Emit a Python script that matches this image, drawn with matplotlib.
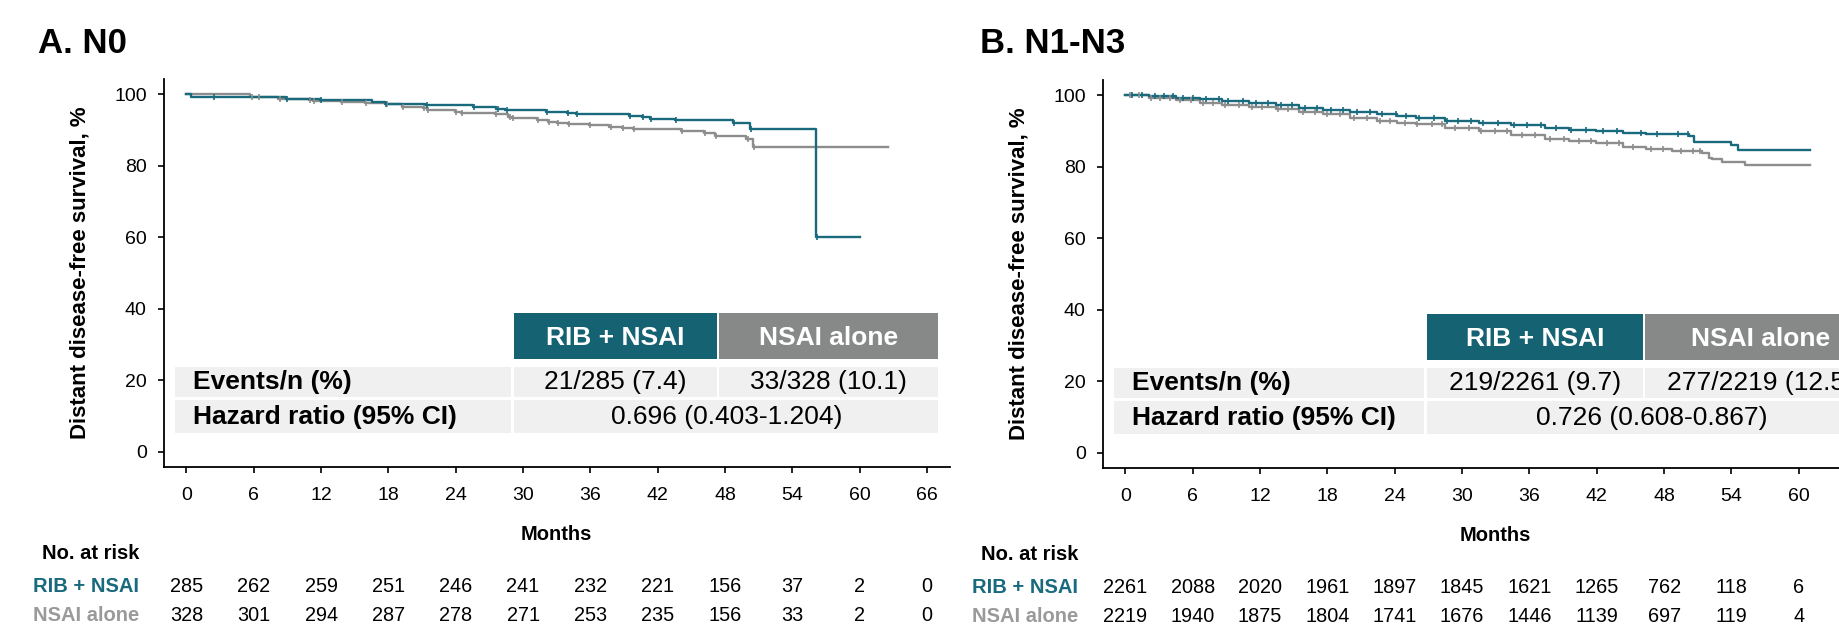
import numpy as np
import matplotlib.pyplot as plt
from matplotlib.patches import Rectangle
from matplotlib.transforms import blended_transform_factory

plt.rcParams['font.family'] = ['Liberation Sans', 'DejaVu Sans']

TEAL = '#1a6a7e'
GREY = '#8d8d8d'
HEAD_TEAL = '#156273'
HEAD_GREY = '#878988'
CELL = '#f0f0f0'

month_ticks = list(range(0, 67, 6))
surv_ticks = [0, 20, 40, 60, 80, 100]

# ---- A. N0 ----
n0_rib_t = [0, 0.4, 8.9, 11.9, 16.5, 17.7, 21.3, 25.5, 27.6, 28.4, 32.0, 33.9,
            34.7, 39.4, 40.6, 41.3, 43.5, 48.7, 50.2, 56.1]
n0_rib_s = [100, 99.2, 98.7, 98.4, 98.0, 97.4, 96.9, 96.4, 95.9, 95.6, 95.2, 94.8,
            94.4, 94.0, 93.6, 93.2, 92.9, 92.1, 90.4, 60.2]
n0_rib_end = 60.0
n0_rib_cens = [2.5, 9.0, 12.0, 17.8, 21.4, 25.6, 27.8, 28.6, 32.1, 34.0, 34.8,
               39.5, 40.7, 41.4, 43.6, 48.8, 50.3, 56.2]

n0_nsai_t = [0, 5.7, 8.2, 10.9, 11.3, 13.8, 15.9, 17.8, 19.2, 21.1, 21.4, 23.9,
             24.5, 27.5, 28.7, 29.0, 31.2, 32.2, 33.0, 34.0, 35.9, 37.7, 38.8,
             39.8, 44.1, 46.1, 47.1, 49.9, 50.5]
n0_nsai_s = [100, 99.2, 98.8, 98.4, 98.1, 97.8, 97.5, 97.2, 96.6, 96.1, 95.7, 95.2,
             94.7, 94.4, 93.8, 93.3, 92.9, 92.4, 92.1, 91.6, 91.3, 90.9, 90.6,
             90.3, 89.8, 89.1, 88.5, 87.5, 85.4]
n0_nsai_end = 62.5
n0_nsai_cens = [5.8, 6.5, 8.3, 11.0, 11.4, 13.9, 16.0, 17.9, 19.3, 21.2, 21.5,
                24.0, 24.6, 27.6, 28.8, 29.1, 31.3, 32.3, 33.1, 34.1, 36.0, 37.8,
                38.9, 39.9, 44.2, 46.2, 47.2, 50.0, 50.6]

n0_risk_rib = [285, 262, 259, 251, 246, 241, 232, 221, 156, 37, 2, 0]
n0_risk_nsai = [328, 301, 294, 287, 278, 271, 253, 235, 156, 33, 2, 0]
n0_events = ['21/285 (7.4)', '33/328 (10.1)']
n0_hr = '0.696 (0.403-1.204)'

# ---- B. N1-N3 ----
n13_rib_t = [0, 2.1, 4.5, 6.6, 8.6, 11.0, 13.4, 15.5, 17.6, 20.0, 22.4, 24.2,
             25.9, 28.5, 31.5, 34.4, 37.4, 39.5, 41.9, 44.3, 46.4, 49.6, 50.2,
             50.7, 54.0, 54.6]
n13_rib_s = [100, 99.8, 99.3, 98.9, 98.4, 97.8, 97.2, 96.5, 95.9, 95.3, 94.7, 94.2,
             93.8, 92.8, 92.2, 91.6, 90.9, 90.3, 90.0, 89.5, 89.3, 89.1, 88.6,
             86.9, 86.0, 84.7]
n13_rib_end = 61.0
n13_rib_cens = [0.6, 1.5, 2.6, 3.4, 4.2, 5.1, 6.0, 7.2, 8.3, 9.1, 10.5, 11.6, 12.7,
                13.9, 14.8, 16.0, 17.1, 18.3, 19.4, 20.6, 21.8, 22.9, 24.1, 25.0,
                26.2, 27.5, 28.7, 29.6, 30.8, 31.9, 33.2, 34.6, 35.8, 37.0, 38.4,
                39.7, 41.0, 42.6, 43.8, 45.9, 47.4, 49.2, 50.1]

n13_nsai_t = [0, 2.1, 4.5, 6.6, 8.6, 11.0, 13.4, 15.5, 17.6, 20.0, 22.4, 24.2,
              25.9, 28.5, 31.5, 34.4, 37.4, 39.5, 41.9, 44.3, 46.4, 48.7, 51.4,
              52.0, 52.3, 53.2, 55.2]
n13_nsai_s = [100, 99.3, 98.6, 97.8, 97.3, 96.8, 96.1, 95.3, 94.7, 93.8, 92.8, 92.4,
              91.9, 90.9, 90.0, 88.8, 87.9, 87.2, 86.6, 85.6, 85.1, 84.4, 83.9,
              82.5, 82.1, 81.3, 80.5]
n13_nsai_end = 61.0
n13_nsai_cens = [0.4, 1.2, 2.3, 3.1, 4.0, 4.9, 5.8, 6.9, 7.8, 8.9, 10.1, 11.3, 12.2,
                 13.6, 14.5, 15.8, 16.9, 18.0, 19.1, 20.4, 21.5, 22.7, 23.6, 24.9,
                 26.0, 27.3, 28.2, 29.4, 30.6, 31.7, 32.9, 34.0, 35.3, 36.5, 37.8,
                 39.1, 40.4, 41.5, 42.9, 44.0, 45.2, 46.8, 47.9, 49.5, 50.6, 51.2]

n13_risk_rib = [2261, 2088, 2020, 1961, 1897, 1845, 1621, 1265, 762, 118, 6]
n13_risk_nsai = [2219, 1940, 1875, 1804, 1741, 1676, 1446, 1139, 697, 119, 4]
n13_events = ['219/2261 (9.7)', '277/2219 (12.5)']
n13_hr = '0.726 (0.608-0.867)'

arms = ['RIB + NSAI', 'NSAI alone']


def surv_at(times, surv, t):
    idx = np.searchsorted(times, t, side='right') - 1
    return np.asarray(surv)[idx]


def km(ax, times, surv, end, cens, color):
    x = list(times) + [end]
    y = list(surv) + [surv[-1]]
    ax.step(x, y, where='post', color=color, lw=1.7, zorder=3)
    ax.plot(cens, surv_at(times, surv, cens), ls='none', marker='|', ms=5,
            mew=1.2, color=color, zorder=4)


def panel(ax, rib, nsai, risk_rib, risk_nsai, events, hr, cols):
    km(ax, *nsai, GREY)
    km(ax, *rib, TEAL)

    ax.set_xlim(-2, 68)
    ax.set_ylim(-4.2, 104.3)
    ax.set_xticks(month_ticks)
    ax.set_yticks(surv_ticks)
    for s in ['top', 'right']:
        ax.spines[s].set_visible(False)
    for s in ['left', 'bottom']:
        ax.spines[s].set_linewidth(1.3)
    ax.tick_params(axis='both', direction='out', length=4.5, width=1.2,
                   labelsize=14, pad=8)
    ax.tick_params(axis='x', pad=10)
    ax.set_xlabel('Months', fontsize=14.5, fontweight='bold', labelpad=15)
    ax.set_ylabel('Distant disease-free survival, %', fontsize=16,
                  fontweight='bold')
    ax.yaxis.set_label_coords(-0.094, 0.5)

    # summary table inside the plot
    l0, l1, c0, c1, g0, g1 = cols
    hy0, hy1 = 26.1, 39.0
    r1y0, r1y1 = 15.5, 23.9
    r2y0, r2y1 = 5.4, 14.5
    boxes = [(c0, hy0, c1, hy1, HEAD_TEAL), (g0, hy0, g1, hy1, HEAD_GREY),
             (l0, r1y0, l1, r1y1, CELL), (c0, r1y0, c1, r1y1, CELL),
             (g0, r1y0, g1, r1y1, CELL), (l0, r2y0, l1, r2y1, CELL),
             (c0, r2y0, g1, r2y1, CELL)]
    for x0, y0, x1, y1, fc in boxes:
        ax.add_patch(Rectangle((x0, y0), x1 - x0, y1 - y0, facecolor=fc,
                               edgecolor='none', zorder=1, clip_on=False))
    kw = dict(fontsize=19, va='center', zorder=2, clip_on=False)
    ax.text((c0 + c1) / 2, 31.9, arms[0], ha='center', color='white',
            fontweight='bold', **kw)
    ax.text((g0 + g1) / 2, 31.9, arms[1], ha='center', color='white',
            fontweight='bold', **kw)
    ax.text(l0 + 1.6, 19.5, 'Events/n (%)', ha='left', fontweight='bold', **kw)
    ax.text(l0 + 1.6, 9.7, 'Hazard ratio (95% CI)', ha='left',
            fontweight='bold', **kw)
    ax.text((c0 + c1) / 2, 19.5, events[0], ha='center', **kw)
    ax.text((g0 + g1) / 2, 19.5, events[1], ha='center', **kw)
    ax.text((c0 + g1) / 2, 9.7, hr, ha='center', **kw)

    # number at risk
    tr = blended_transform_factory(ax.transData, ax.transAxes)
    ax.text(-4.2, -0.222, 'No. at risk', transform=tr, ha='right', va='center',
            fontsize=14.5, fontweight='bold')
    for row_y, lab, col, vals in [(-0.307, arms[0], TEAL, risk_rib),
                                  (-0.384, arms[1], '#9a9a9a', risk_nsai)]:
        ax.text(-4.2, row_y, lab, transform=tr, ha='right', va='center',
                fontsize=14.5, fontweight='bold', color=col)
        for m, v in zip(month_ticks, vals):
            ax.text(m, row_y, str(v), transform=tr, ha='center', va='center',
                    fontsize=14.3)


fig = plt.figure(figsize=(18.39, 6.41), dpi=100)
axA = fig.add_axes([164 / 1839, 1 - 467 / 641, 785.5 / 1839, 388 / 641])
axB = fig.add_axes([1103 / 1839, 1 - 468 / 641, 785.5 / 1839, 388 / 641])

panel(axA, (n0_rib_t, n0_rib_s, n0_rib_end, n0_rib_cens),
      (n0_nsai_t, n0_nsai_s, n0_nsai_end, n0_nsai_cens),
      n0_risk_rib, n0_risk_nsai, n0_events, n0_hr,
      (-1.0, 28.9, 29.2, 47.3, 47.5, 67.0))
panel(axB, (n13_rib_t, n13_rib_s, n13_rib_end, n13_rib_cens),
      (n13_nsai_t, n13_nsai_s, n13_nsai_end, n13_nsai_cens),
      n13_risk_rib, n13_risk_nsai, n13_events, n13_hr,
      (-1.0, 26.6, 26.9, 46.1, 46.3, 66.9))

fig.text(38 / 1839, 1 - 53 / 641, 'A. N0', fontsize=25, fontweight='bold',
         va='baseline')
fig.text(980 / 1839, 1 - 53 / 641, 'B. N1-N3', fontsize=25, fontweight='bold',
         va='baseline')

fig.savefig('out.png', dpi=100)
